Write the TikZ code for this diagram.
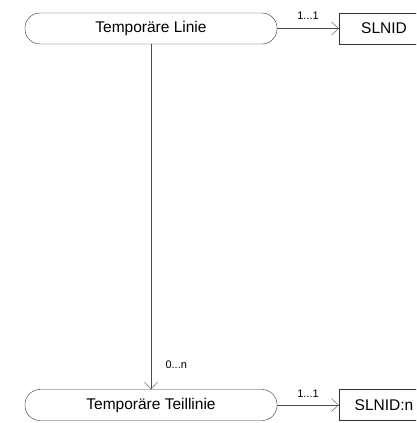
\documentclass[tikz,border=0pt]{standalone}
\usepackage{fontspec}
\setmainfont{Liberation Sans}
\usetikzlibrary{arrows.meta,positioning}
\begin{document}
\begin{tikzpicture}[x=1pt,y=-1pt,
  entity/.style={draw=black!80,rounded corners=15pt,minimum width=252pt,minimum height=31pt,font=\fontsize{15.5}{17}\selectfont},
  idbox/.style={draw=black!80,minimum width=90pt,minimum height=31pt,font=\fontsize{15.5}{17}\selectfont},
  rel/.style={draw=black!70,-{Straight Barb[length=7pt,width=13pt]}},
  card/.style={font=\fontsize{11}{12}\selectfont}]
%Rahmen wie im Original
  \useasboundingbox (0,0) rectangle (416,423);
  \clip (0,0) rectangle (416,423);
  \node[entity] (linie) at (151,28.5) {Temporäre Linie};
  \node[idbox] (slnid) at (384,28.5) {SLNID};
  \node[entity] (teil) at (151,405) {Temporäre Teillinie};
  \node[idbox] (slnidn) at (384,405) {SLNID:n};
\draw[rel] (linie) -- node[card,above=5pt] {1...1} (slnid);
\draw[rel] (teil) -- node[card,above=4pt] {1...1} (slnidn);
\draw[rel] (linie) -- node[card,pos=0.93,right=11pt] {0...n} (teil);
\end{tikzpicture}
\end{document}
